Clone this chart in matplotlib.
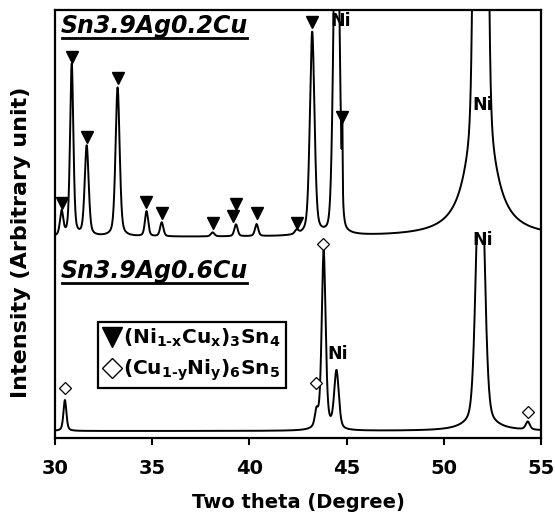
import numpy as np
import matplotlib
matplotlib.use('Agg')
import matplotlib.pyplot as plt
from matplotlib.lines import Line2D
from matplotlib.patches import Rectangle

# ---------------- data ----------------
x_min, x_max = 30, 55
x_ticks = [30, 35, 40, 45, 50, 55]

# upper pattern: Sn3.9Ag0.2Cu (offset baseline, arbitrary units)
top_baseline = 201
top_centers = [30.34, 30.86, 31.63, 33.22, 34.71, 35.49, 38.11, 39.31, 40.37, 42.43, 43.23, 44.48, 44.78, 51.90, 51.90]
top_heights = [24, 172, 90, 149, 25, 14, 4, 12, 12, 4, 203, 400, 70, 3000, 190]
top_fwhm = [0.20, 0.20, 0.24, 0.25, 0.20, 0.20, 0.22, 0.20, 0.20, 0.22, 0.28, 0.33, 0.04, 0.41, 1.24]
top_eta = [0.4, 0.4, 0.4, 0.4, 0.4, 0.4, 0.4, 0.4, 0.4, 0.4, 0.4, 0.2, 0.2, 0.0, 1.0]

# lower pattern: Sn3.9Ag0.6Cu
bot_baseline = 7
bot_clip = 205
bot_centers = [30.51, 43.45, 43.82, 44.48, 51.88, 51.88, 54.32]
bot_heights = [31, 15, 179, 58, 260, 38, 8]
bot_fwhm = [0.18, 0.20, 0.24, 0.28, 0.47, 1.00, 0.25]
bot_eta = [0.5, 0.5, 0.5, 0.4, 0.0, 1.0, 0.5]

# phase markers
tri_x = [30.34, 30.86, 31.63, 33.22, 34.68, 35.49, 38.11, 39.31, 39.17, 40.37, 42.43, 43.23, 44.77]
tri_y = [235, 381, 301, 360, 236, 225, 215, 234, 222, 225, 215, 416, 321]
dia_x = [30.51, 43.45, 43.78, 54.32]
dia_y = [50, 55, 194, 26]
ni_x = [44.70, 51.98, 51.98, 44.52]
ni_y = [417, 333, 198, 84]

sample_labels = ['Sn3.9Ag0.2Cu', 'Sn3.9Ag0.6Cu']
legend_labels = [r'(Ni$_{1\text{-}x}$Cu$_{x}$)$_{3}$Sn$_{4}$',
                 r'(Cu$_{1\text{-}y}$Ni$_{y}$)$_{6}$Sn$_{5}$']

# ---------------- style ----------------
plt.rcParams['font.family'] = ['DejaVu Sans']
plt.rcParams['font.weight'] = 'bold'
plt.rcParams['mathtext.fontset'] = 'custom'
plt.rcParams['mathtext.rm'] = 'DejaVu Sans:bold'
plt.rcParams['mathtext.it'] = 'DejaVu Sans:bold'
plt.rcParams['mathtext.bf'] = 'DejaVu Sans:bold'
plt.rcParams['mathtext.default'] = 'rm'


def profile(x, centers, heights, fwhm, eta, base):
    y = np.full_like(x, float(base))
    for c, h, w, e in zip(centers, heights, fwhm, eta):
        d = (x - c) / (w / 2.0)
        y += h * (e / (1 + d ** 2) + (1 - e) * np.exp(-np.log(2) * d ** 2))
    return y


fig = plt.figure(figsize=(5.55, 5.16), dpi=100)
ax = fig.add_axes([55 / 555, 78 / 516, 486 / 555, 428 / 516])

xx = np.linspace(x_min, x_max, 8001)
ax.plot(xx, profile(xx, top_centers, top_heights, top_fwhm, top_eta, top_baseline),
        color='black', lw=1.4)
bot_line, = ax.plot(xx, profile(xx, bot_centers, bot_heights, bot_fwhm, bot_eta, bot_baseline),
                    color='black', lw=1.4)
clip_rect = Rectangle((x_min - 1, -10), x_max - x_min + 2, bot_clip + 10, transform=ax.transData)
bot_line.set_clip_path(clip_rect)

ax.plot(tri_x, tri_y, ls='none', marker='v', ms=9, color='black')
ax.plot(dia_x, dia_y, ls='none', marker='D', ms=6, mfc='white', mec='black', mew=0.9)
for xi, yi in zip(ni_x, ni_y):
    ax.text(xi, yi, 'Ni', ha='center', va='center', fontsize=12.5, fontweight='bold')

ax.set_xlim(x_min, x_max)
ax.set_ylim(0, 428)
ax.set_xticks(x_ticks)
ax.set_yticks([])
ax.tick_params(axis='x', direction='out', length=5, width=1.5, labelsize=14, pad=10)
for lab in ax.get_xticklabels():
    lab.set_fontweight('bold')
for s in ax.spines.values():
    s.set_linewidth(1.6)

ax.set_xlabel('Two theta (Degree)', fontsize=14, fontweight='bold', labelpad=11)
ax.set_ylabel('Intensity (Arbitrary unit)', fontsize=16, fontweight='bold')
ax.yaxis.set_label_coords(-0.05, 0.458)

handles = [Line2D([], [], ls='none', marker='v', ms=14, color='black'),
           Line2D([], [], ls='none', marker='D', ms=10, mfc='white', mec='black', mew=1.0)]
leg = ax.legend(handles, legend_labels, loc='upper left', bbox_to_anchor=(0.0885, 0.271),
                borderaxespad=0, fancybox=False, edgecolor='black', framealpha=1,
                handlelength=0.9, handletextpad=0.1, borderpad=0.25, labelspacing=0.4,
                prop={'size': 14.5, 'weight': 'bold'})
leg.get_frame().set_linewidth(1.6)

texts = []
for lab, yy in zip(sample_labels, [0.946, 0.374]):
    t = ax.text(0.012, yy, lab, transform=ax.transAxes, ha='left', va='baseline',
                fontsize=17, fontweight='bold', fontstyle='italic')
    texts.append(t)

fig.canvas.draw()
renderer = fig.canvas.get_renderer()
inv = fig.transFigure.inverted()
for t in texts:
    bb = t.get_window_extent(renderer)
    bx, by = ax.transAxes.transform(t.get_position())
    y_ul = by - 5
    p0 = inv.transform((bb.x0 + 1, y_ul))
    p1 = inv.transform((bb.x1 - 1, y_ul))
    fig.add_artist(Line2D([p0[0], p1[0]], [p0[1], p1[1]], color='black', lw=2.0,
                          transform=fig.transFigure))

fig.savefig('out.png', dpi=100)
